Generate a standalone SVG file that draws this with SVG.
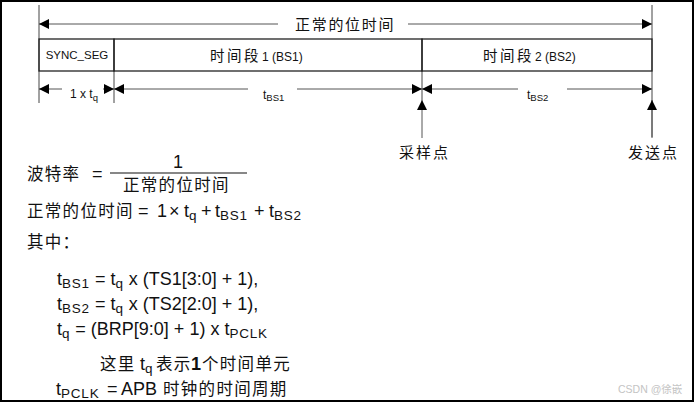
<svg xmlns="http://www.w3.org/2000/svg" width="695" height="403" viewBox="0 0 695 403">
  <defs>
    <marker id="ah" markerUnits="userSpaceOnUse" markerWidth="10" markerHeight="10" refX="10" refY="5" orient="auto">
      <path d="M0,0 L10,5 L0,10 z" fill="#000"/>
    </marker>
    <style>
      .frame{fill:#fff;stroke:#000;stroke-width:2}
      .box{fill:none;stroke:#222;stroke-width:1.3}
      .tick{stroke:#444;stroke-width:1}
      .arr{stroke:#555;stroke-width:1;marker-end:url(#ah)}
      .cn{font-family:"Noto Sans CJK SC","Liberation Sans",sans-serif;fill:#111}
      .la{font-family:"Liberation Sans","Noto Sans CJK SC",sans-serif;fill:#111}
      .f{font-family:"Liberation Sans","Noto Sans CJK SC",sans-serif;font-size:18px;fill:#111}
      .fc{font-family:"Noto Sans CJK SC","Liberation Sans",sans-serif;font-size:16.5px;letter-spacing:1.3px;fill:#111}
      .sub{font-size:13.5px;letter-spacing:0.8px}
      .wm{font-family:"Liberation Sans","Noto Sans CJK SC",sans-serif;font-size:10.5px;fill:#c4c4c4}
    </style>
  </defs>
  <rect class="frame" x="1" y="1" width="692" height="400"/>

  <g id="connectors">
    <line class="tick" x1="39" y1="5" x2="39" y2="103"/>
    <line class="tick" x1="652" y1="5" x2="652" y2="137"/>
    <line class="tick" x1="114" y1="71" x2="114" y2="103"/>
    <line class="tick" x1="422" y1="71" x2="422" y2="100"/>
    <line class="arr" x1="278" y1="24" x2="39" y2="24"/>
    <line class="arr" x1="408" y1="24" x2="652" y2="24"/>
    <line class="arr" x1="62" y1="89" x2="39" y2="89"/>
    <line class="arr" x1="103" y1="89" x2="114" y2="89"/>
    <line class="arr" x1="248" y1="89" x2="114" y2="89"/>
    <line class="arr" x1="297" y1="89" x2="422" y2="89"/>
    <line class="arr" x1="518" y1="89" x2="422" y2="89"/>
    <line class="arr" x1="567" y1="89" x2="652" y2="89"/>
    <line class="arr" x1="422" y1="138" x2="422" y2="100"/>
    <line class="arr" x1="652" y1="138" x2="652" y2="100"/>
  </g>

  <g id="bit-time-label">
    <text class="cn" x="295" y="30" font-size="15" letter-spacing="1.7">正常的位时间</text>
  </g>
  <g id="sync-seg">
    <rect class="box" x="39" y="39" width="75" height="32"/>
    <text class="la" x="77" y="59" font-size="11.5" text-anchor="middle">SYNC_SEG</text>
  </g>
  <g id="bs1">
    <rect class="box" x="114" y="39" width="308" height="32"/>
    <text x="210" y="61"><tspan class="cn" font-size="14.5" letter-spacing="2.5">时间段</tspan><tspan class="la" font-size="12" dx="1">1 (BS1)</tspan></text>
  </g>
  <g id="bs2">
    <rect class="box" x="422" y="39" width="230" height="32"/>
    <text x="483" y="61"><tspan class="cn" font-size="14.5" letter-spacing="2.5">时间段</tspan><tspan class="la" font-size="12" dx="1">2 (BS2)</tspan></text>
  </g>
  <g id="dim-labels">
    <text class="la" x="70" y="98" font-size="12">1 x t<tspan font-size="9.5" dy="3">q</tspan></text>
    <text class="la" x="263" y="99" font-size="12">t<tspan font-size="9.5" dy="2">BS1</tspan></text>
    <text class="la" x="527" y="99" font-size="12">t<tspan font-size="9.5" dy="2">BS2</tspan></text>
  </g>
  <g id="sample-point">
    <text class="cn" x="399" y="158" font-size="15" letter-spacing="2">采样点</text>
  </g>
  <g id="tx-point">
    <text class="cn" x="628" y="158" font-size="15" letter-spacing="2">发送点</text>
  </g>

  <g id="formulas">
    <text class="fc" x="27" y="180" letter-spacing="2">波特率</text>
    <text class="f" x="92" y="180">=</text>
    <text class="f" x="178" y="168" text-anchor="middle">1</text>
    <line x1="110" y1="173" x2="247" y2="173" stroke="#111" stroke-width="1.2"/>
    <text class="fc" x="123" y="191">正常的位时间</text>

    <text y="217"><tspan class="fc" x="27">正常的位时间</tspan><tspan class="f" x="138">=</tspan><tspan class="f" x="157">1</tspan><tspan class="f" x="169">×</tspan><tspan class="f" x="184">t</tspan><tspan class="f sub" dy="3">q</tspan><tspan class="f" x="201" dy="-3">+</tspan><tspan class="f" x="215">t</tspan><tspan class="f sub" dy="3">BS1</tspan><tspan class="f" x="254" dy="-3">+</tspan><tspan class="f" x="269">t</tspan><tspan class="f sub" dy="3">BS2</tspan></text>

    <text class="fc" x="27" y="248">其中：</text>

    <text class="f" x="57" y="285">t<tspan class="sub" dy="3">BS1</tspan><tspan dy="-3"> = t</tspan><tspan class="sub" dy="3">q</tspan><tspan dy="-3"> x (TS1[3:0] + 1),</tspan></text>
    <text class="f" x="57" y="310">t<tspan class="sub" dy="3">BS2</tspan><tspan dy="-3"> = t</tspan><tspan class="sub" dy="3">q</tspan><tspan dy="-3"> x (TS2[2:0] + 1),</tspan></text>
    <text class="f" x="57" y="335">t<tspan class="sub" dy="3">q</tspan><tspan dy="-3"> = (BRP[9:0] + 1) x t</tspan><tspan class="sub" dy="3">PCLK</tspan></text>
    <text y="370"><tspan class="fc" x="100">这里</tspan><tspan class="f" x="140">t</tspan><tspan class="f sub" dy="3">q</tspan><tspan class="fc" x="156" dy="-3" letter-spacing="0.6">表示</tspan><tspan class="f" x="191" font-weight="bold">1</tspan><tspan class="fc" x="202" letter-spacing="1.8">个时间单元</tspan></text>
    <text y="395"><tspan class="f" x="56">t</tspan><tspan class="f sub" dy="3">PCLK</tspan><tspan class="f" x="107" dy="-3" font-size="17">=</tspan><tspan class="f" x="121" font-size="17">APB</tspan><tspan class="fc" x="163" letter-spacing="1.5">时钟的时间周期</tspan></text>
  </g>

  <text class="wm" x="618" y="393">CSDN @徐嵌</text>
</svg>
